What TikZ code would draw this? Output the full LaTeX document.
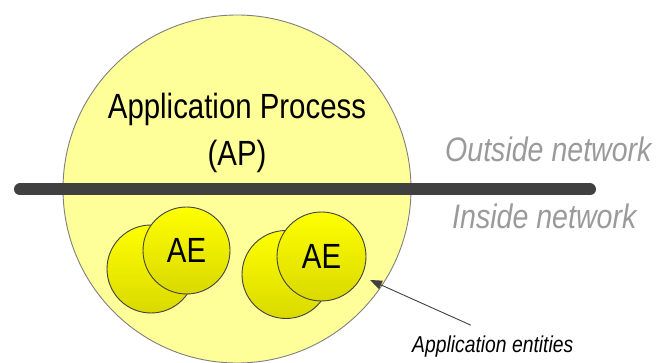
\documentclass[tikz,border=0pt]{standalone}
\usepackage{fontspec}
\setmainfont[FakeStretch=0.84]{Liberation Sans}
\usepackage{xcolor}
\definecolor{ffff99}{HTML}{ffff99}
\definecolor{ffff00}{HTML}{ffff00}
\definecolor{d9d900}{HTML}{d9d900}
\definecolor{404040}{HTML}{404040}
\definecolor{7f7f7f}{HTML}{7f7f7f}
\definecolor{9a9a9a}{HTML}{9a9a9a}
\usepackage{tikz}
\usetikzlibrary{arrows.meta}

\begin{document}
\begin{tikzpicture}[x=1pt, y=-1pt,
            entity/.style={circle, draw=404040, line width=.9pt, inner sep=0,
                top color=ffff00, bottom color=d9d900},
            side/.style={anchor=base west, inner sep=0, color=9a9a9a,
                font=\fontsize{34}{34}\selectfont\itshape}]
            \useasboundingbox (0, 0) rectangle (661, 363);

            \node (ap) at (237, 189) [circle, draw=7f7f7f, line width=.9pt,
                fill=ffff99, minimum size=348pt, inner sep=0] {};
            \node (aptext) at (237, 132.5) [inner sep=0, align=center,
                font=\fontsize{35}{47}\selectfont] {Application Process\\(AP)};

            \coordinate (netL) at (20, 189.5);
            \coordinate (netR) at (590, 189.5);
            \draw[color=404040, line width=12pt, line cap=round] (netL) to (netR);

            \node (outside) at (445, 162) [side] {Outside network};
            \node (inside) at (452, 229) [side] {Inside network};

            \node (back1) at (151, 269) [entity, minimum size=88pt] {};
            \node (ae1) at (186.5, 250.5) [entity, minimum size=87pt,
                font=\fontsize{35}{35}\selectfont] {AE};
            \node (back2) at (286, 274.5) [entity, minimum size=88pt] {};
            \node (ae2) at (321.5, 256.5) [entity, minimum size=89pt,
                font=\fontsize{35}{35}\selectfont] {AE};

            \node (entities) at (412, 352) [anchor=base west, inner sep=0,
                font=\fontsize{23}{23}\selectfont\itshape] {Application entities};
            \coordinate (aetip) at (370, 280);
            \draw[-{Triangle[length=12pt, width=9pt]}, color=404040, line width=.9pt]
                ([xshift=-22pt, yshift=10pt]entities.north) to (aetip);
        \end{tikzpicture}
\end{document}
